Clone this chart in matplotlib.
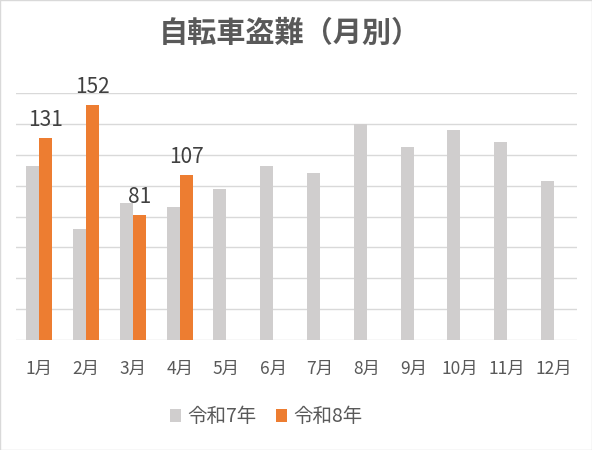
import numpy as np
import matplotlib
matplotlib.use("Agg")
import matplotlib.pyplot as plt
from matplotlib.patches import Rectangle

plt.rcParams["font.family"] = ["Noto Sans CJK JP", "DejaVu Sans"]

months = ["1月", "2月", "3月", "4月", "5月", "6月",
          "7月", "8月", "9月", "10月", "11月", "12月"]
r7_values = [113, 72, 89, 86, 98, 113, 108, 140, 125, 136, 128, 103]
r8_values = [131, 152, 81, 107]
series_names = ["令和7年", "令和8年"]

GRAY = "#D0CECE"
ORANGE = "#ED7D31"
TEXT = "#595959"

fig = plt.figure(figsize=(5.92, 4.5), dpi=100)
ax = fig.add_axes([0.027, 0.2444, 0.948, 0.5489])

x = np.arange(len(months))
w = 0.278
ax.bar(x - w / 2, r7_values, w, color=GRAY, label=series_names[0], zorder=2)
bars8 = ax.bar(x[:len(r8_values)] + w / 2, r8_values, w, color=ORANGE,
               label=series_names[1], zorder=2)
for b, v in zip(bars8, r8_values):
    ax.annotate(str(v), (b.get_x() + b.get_width() / 2, v),
                xytext=(0, 5), textcoords="offset points",
                ha="center", va="bottom", fontsize=15, color="#404040",
                annotation_clip=False)

ax.set_xlim(-0.5, len(months) - 0.5)
ax.set_ylim(0, 160)
ax.set_yticks(np.arange(0, 161, 20))
ax.yaxis.grid(True, color="#D9D9D9", linewidth=1, zorder=0)
ax.set_axisbelow(True)
ax.tick_params(axis="y", left=False, labelleft=False)
ax.tick_params(axis="x", length=0, pad=14, labelsize=12.5, labelcolor=TEXT)
ax.set_xticks(x)
ax.set_xticklabels(months)
for s in ax.spines.values():
    s.set_visible(False)

fig.suptitle("自転車盗難（月別）", x=0.49, y=0.96, fontsize=21,
             fontweight="bold", color=TEXT)

leg = fig.legend(loc="center", bbox_to_anchor=(266 / 592, 1 - 417 / 450),
                 ncol=2, frameon=False, fontsize=14, labelcolor=TEXT,
                 handlelength=0.6, handleheight=0.6, handletextpad=0.3,
                 columnspacing=1.0)

fig.patches.append(Rectangle((0, 0), 1, 1, transform=fig.transFigure,
                             fill=False, edgecolor="#D9D9D9", linewidth=1))

fig.savefig("out.png", dpi=100)
